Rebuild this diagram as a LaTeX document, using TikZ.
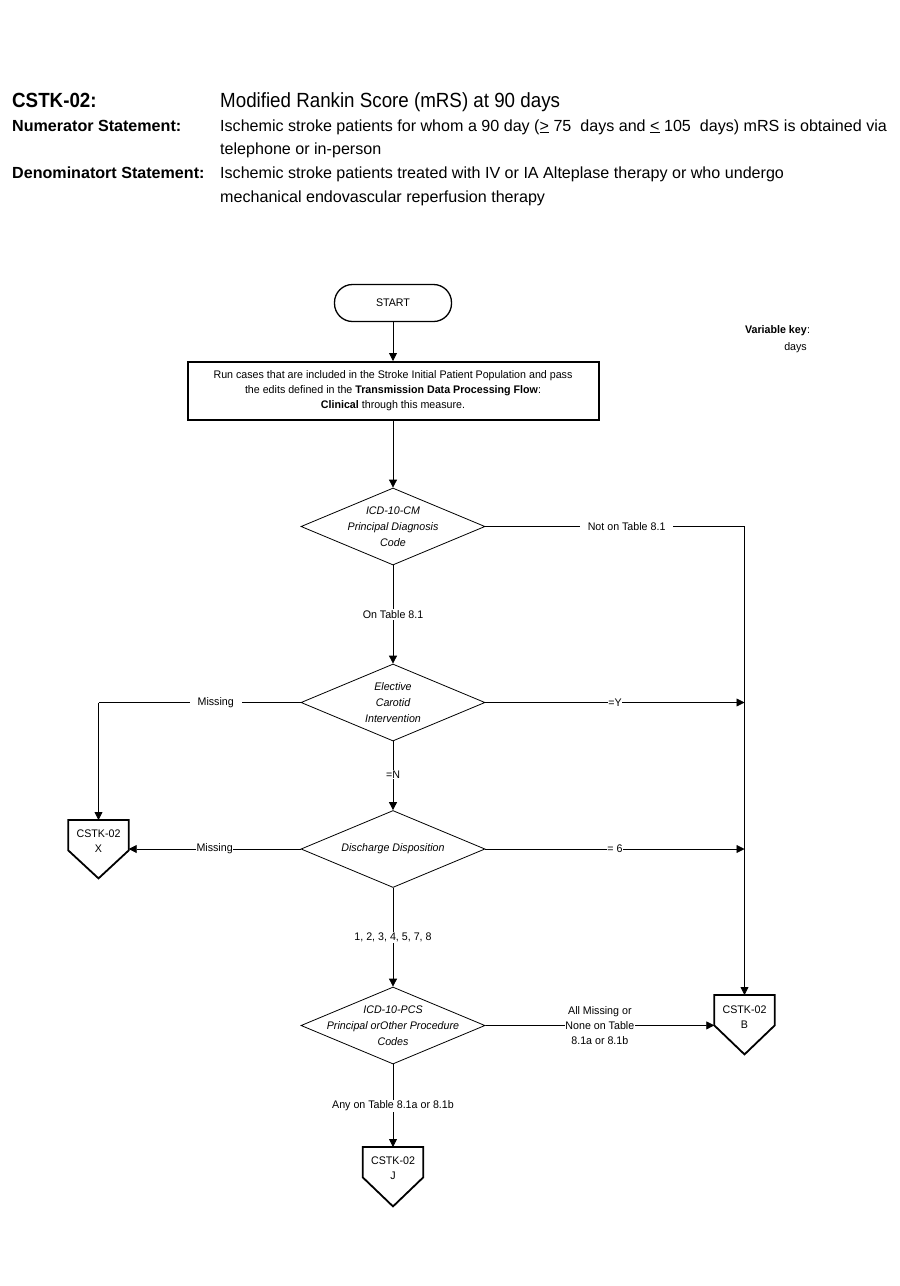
\documentclass[tikz,border=0pt]{standalone}
\usepackage{fontspec}
\setmainfont{Liberation Sans}
\newfontfamily\hdfont{Liberation Sans}
\newfontfamily\ttlfont[FakeStretch=0.915]{Liberation Sans}
\newfontfamily\dgfont[FakeStretch=0.97]{Liberation Sans}
\usetikzlibrary{arrows.meta,shapes.geometric,calc}
\begin{document}
\begin{tikzpicture}[x=1pt,y=-1pt,
  hdr/.style={inner sep=0pt,font=\hdfont\fontsize{16.1}{23}\selectfont},
  ttl/.style={inner sep=0pt,font=\ttlfont\fontsize{20.5}{23}\selectfont},
  txt/.style={font=\dgfont\fontsize{11}{15}\selectfont,align=center,inner sep=0pt},
  itx/.style={font=\dgfont\itshape\fontsize{11}{16}\selectfont,align=center,inner sep=0pt},
  lbl/.style={font=\dgfont\fontsize{11}{15}\selectfont,align=center,fill=white,inner xsep=0.5pt,inner ysep=1pt},
  gaplbl/.style={lbl,inner xsep=8pt},
  startbox/.style={draw,line width=1.3pt,rounded corners=18pt,minimum width=117pt,minimum height=37pt,font=\dgfont\fontsize{11}{12}\selectfont},
  procbox/.style={draw,line width=2pt,minimum width=411pt,minimum height=58pt},
  dia/.style={draw,line width=0.8pt,diamond,minimum width=184pt,minimum height=77pt,inner sep=0pt},
  opbody/.style={minimum width=60pt,minimum height=30pt,inner sep=0pt},
  opline/.style={line width=1.8pt,line join=miter},
  arr/.style={line width=0.8pt,-{Triangle[length=8pt,width=8pt]}},
  ln/.style={line width=0.8pt}]
\useasboundingbox (0,0) rectangle (900,1286);
% header
\node[ttl,anchor=base west,font=\ttlfont\bfseries\fontsize{20.5}{23}\selectfont] (h1l) at (12,107) {CSTK-02:};
\node[ttl,anchor=base west] (h1r) at (220,107) {Modified Rankin Score (mRS) at 90 days};
\node[hdr,anchor=base west,font=\hdfont\bfseries\fontsize{16.1}{23}\selectfont] (h2l) at (12,131) {Numerator Statement:};
\node[hdr,anchor=base west] (h2r) at (220,131) {Ischemic stroke patients for whom a 90 day (\underline{>} 75\ \ days and \underline{<} 105\ \ days) mRS is obtained via};
\node[hdr,anchor=base west] (h3r) at (220,154) {telephone or in-person};
\node[hdr,anchor=base west,font=\hdfont\bfseries\fontsize{16.1}{23}\selectfont] (h4l) at (12,178) {Denominatort Statement:};
\node[hdr,anchor=base west] (h4r) at (220,178) {Ischemic stroke patients treated with IV or IA Alteplase therapy or who undergo};
\node[hdr,anchor=base west] (h5r) at (220,202) {mechanical endovascular reperfusion therapy};
% variable key
\node[txt,anchor=base east] (vk1) at (807,333) {\bfseries Variable key};
\node[txt,anchor=base west] (vk1c) at (vk1.base east) {:};
\node[txt,anchor=base east] (vk2) at (807,350) {days};
% flow
\node[startbox] (start) at (393,303) {START};
\node[procbox] (run) at (393,391) {};
\node[txt] (runt) at (run) {Run cases that are included in the Stroke Initial Patient Population and pass\\ the edits defined in the \textbf{Transmission Data Processing Flow}:\\ \textbf{Clinical} through this measure.};
\node[dia] (d1) at (393,526.5) {};
\node[itx] (d1t) at (d1) {ICD-10-CM\\ Principal Diagnosis\\ Code};
\node[dia] (d2) at (393,702.5) {};
\node[itx] (d2t) at (d2) {Elective\\ Carotid\\ Intervention};
\node[dia] (d3) at (393,849) {};
\node[itx] (d3t) at (d3) {Discharge Disposition};
\node[dia] (d4) at (393,1025.5) {};
\node[itx] (d4t) at (d4) {ICD-10-PCS\\ Principal orOther Procedure\\ Codes};
% off-page connectors
\node[opbody,anchor=north] (X) at (98.5,820) {};
\node[txt] (Xt) at ($(X)+(0,6)$) {CSTK-02\\ X};
\draw[opline] (X.south west) -- (X.north west) -- (X.north east) -- (X.south east) -- ($(X.south)+(0,28)$) -- cycle;
\node[opbody,anchor=north] (B) at (744.5,995) {};
\node[txt] (Bt) at ($(B)+(0,7)$) {CSTK-02\\ B};
\draw[opline] (B.south west) -- (B.north west) -- (B.north east) -- (B.south east) -- ($(B.south)+(0,29)$) -- cycle;
\node[opbody,anchor=north] (J) at (393,1147) {};
\node[txt] (Jt) at ($(J)+(0,6)$) {CSTK-02\\ J};
\draw[opline] (J.south west) -- (J.north west) -- (J.north east) -- (J.south east) -- ($(J.south)+(0,29)$) -- cycle;
\coordinate (c1) at (744.5,526.5);
\coordinate (c2) at (98.5,702.5);
% connectors
\draw[arr] (start) -- (run);
\draw[arr] (run) -- (d1);
\draw[ln] (d1.east) -- (c1) node[gaplbl,pos=0.545] {Not on Table 8.1};
\draw[arr] (c1) -- (B.north);
\draw[arr] (d1) -- (d2) node[lbl,pos=0.5] {On Table 8.1};
\draw[arr] (d2.east) -- (c1 |- d2) node[lbl,pos=0.5] {=Y};
\draw[ln] (d2.west) -- (c2) node[gaplbl,pos=0.42] {Missing};
\draw[arr] (c2) -- (X.north);
\draw[arr] (d2) -- (d3) node[lbl,pos=0.48] {=N};
\draw[arr] (d3.west) -- (X.south east |- d3) node[lbl,pos=0.5] {Missing};
\draw[arr] (d3.east) -- (c1 |- d3) node[lbl,pos=0.5] {= 6};
\draw[arr] (d3) -- (d4) node[lbl,pos=0.5] {1, 2, 3, 4, 5, 7, 8};
\draw[arr] (d4.east) -- (B.south west) node[lbl,pos=0.5] {All Missing or\\ None on Table\\ 8.1a or 8.1b};
\draw[arr] (d4) -- (J.north) node[lbl,pos=0.5] {Any on Table 8.1a or 8.1b};
\end{tikzpicture}
\end{document}
